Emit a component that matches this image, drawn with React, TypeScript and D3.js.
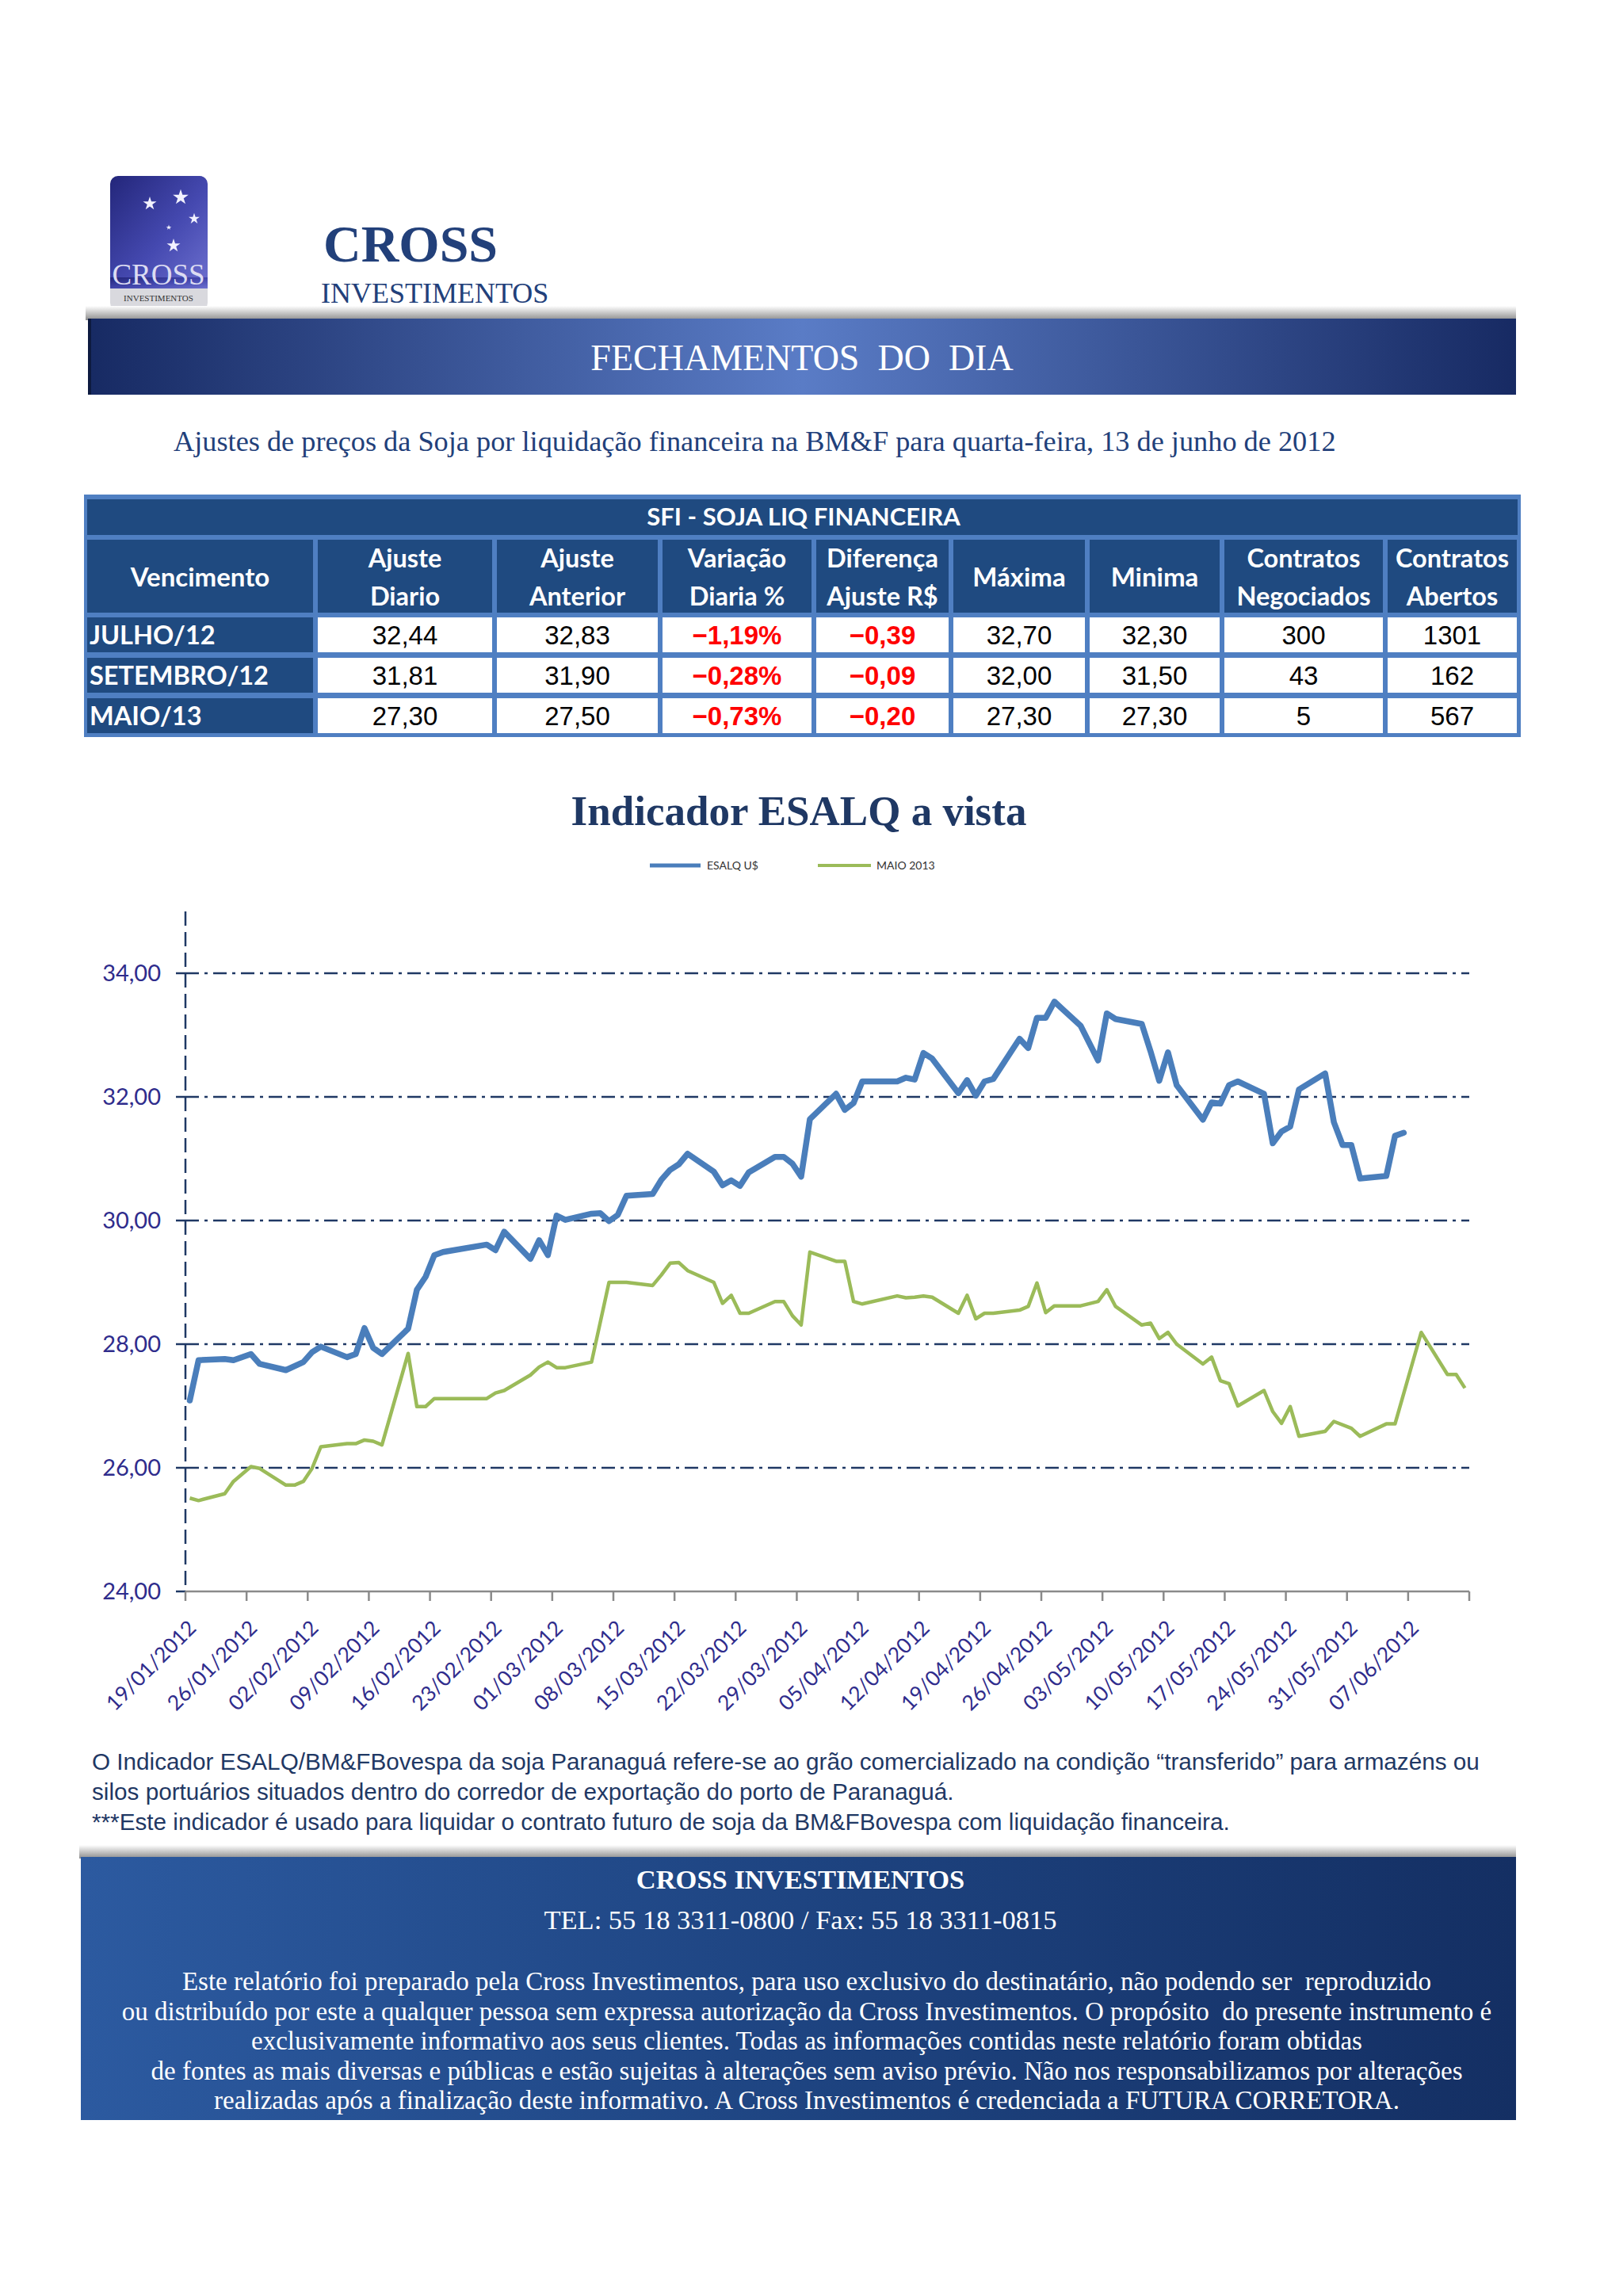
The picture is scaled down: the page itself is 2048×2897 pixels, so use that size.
import * as d3 from "d3";

const vencimentos = ["JULHO/12", "SETEMBRO/12", "MAIO/13"];
const ajusteDiario = [32.44, 31.81, 27.3];
const ajusteAnterior = [32.83, 31.9, 27.5];
const variacaoPct = [-1.19, -0.28, -0.73];
const diferenca = [-0.39, -0.09, -0.2];
const maxima = [32.7, 32.0, 27.3];
const minima = [32.3, 31.5, 27.3];
const contratosNegociados = [300, 43, 5];
const contratosAbertos = [1301, 162, 567];

const headers = [
  ["Vencimento"],
  ["Ajuste", "Diario"],
  ["Ajuste", "Anterior"],
  ["Variação", "Diaria %"],
  ["Diferença", "Ajuste R$"],
  ["Máxima"],
  ["Minima"],
  ["Contratos", "Negociados"],
  ["Contratos", "Abertos"],
];

const esalqDates = [
  "2012-01-19", "2012-01-20", "2012-01-23", "2012-01-24", "2012-01-26", "2012-01-27", "2012-01-30",
  "2012-02-01", "2012-02-02", "2012-02-03", "2012-02-06", "2012-02-07", "2012-02-08", "2012-02-09",
  "2012-02-10", "2012-02-13", "2012-02-14", "2012-02-15", "2012-02-16", "2012-02-17", "2012-02-22",
  "2012-02-23", "2012-02-24", "2012-02-27", "2012-02-28", "2012-02-29", "2012-03-01", "2012-03-02",
  "2012-03-05", "2012-03-06", "2012-03-07", "2012-03-08", "2012-03-09", "2012-03-12", "2012-03-13",
  "2012-03-14", "2012-03-15", "2012-03-16", "2012-03-19", "2012-03-20", "2012-03-21", "2012-03-22",
  "2012-03-23", "2012-03-26", "2012-03-27", "2012-03-28", "2012-03-29", "2012-03-30", "2012-04-02",
  "2012-04-03", "2012-04-04", "2012-04-05", "2012-04-09", "2012-04-10", "2012-04-11", "2012-04-12",
  "2012-04-13", "2012-04-16", "2012-04-17", "2012-04-18", "2012-04-19", "2012-04-20", "2012-04-23",
  "2012-04-24", "2012-04-25", "2012-04-26", "2012-04-27", "2012-04-30", "2012-05-02", "2012-05-03",
  "2012-05-04", "2012-05-07", "2012-05-08", "2012-05-09", "2012-05-10", "2012-05-11", "2012-05-14",
  "2012-05-15", "2012-05-16", "2012-05-17", "2012-05-18", "2012-05-21", "2012-05-22", "2012-05-23",
  "2012-05-24", "2012-05-25", "2012-05-28", "2012-05-29", "2012-05-30", "2012-05-31", "2012-06-01",
  "2012-06-04", "2012-06-05", "2012-06-06",
];
const esalqValues = [
  27.09, 27.74, 27.76, 27.74, 27.84, 27.68, 27.58,
  27.71, 27.87, 27.96, 27.79, 27.84, 28.26, 27.94,
  27.84, 28.25, 28.88, 29.09, 29.44, 29.49, 29.61,
  29.52, 29.82, 29.38, 29.68, 29.44, 30.08, 30.01,
  30.11, 30.12, 29.99, 30.09, 30.4, 30.43, 30.66,
  30.82, 30.91, 31.08, 30.79, 30.57, 30.65, 30.56,
  30.78, 31.03, 31.03, 30.92, 30.71, 31.64, 32.05,
  31.79, 31.9, 32.25, 32.25, 32.31, 32.28, 32.71,
  32.62, 32.06, 32.27, 32.02, 32.25, 32.29, 32.94,
  32.79, 33.28, 33.28, 33.54, 33.15, 32.59, 33.35,
  33.26, 33.18, 32.74, 32.26, 32.72, 32.19, 31.63,
  31.91, 31.89, 32.19, 32.25, 32.05, 31.25, 31.44,
  31.52, 32.12, 32.38, 31.59, 31.22, 31.22, 30.68,
  30.72, 31.37, 31.42,
];

const maioDates = [
  "2012-01-19", "2012-01-20", "2012-01-23", "2012-01-24", "2012-01-26", "2012-01-27", "2012-01-30",
  "2012-01-31", "2012-02-01", "2012-02-02", "2012-02-03", "2012-02-06", "2012-02-07", "2012-02-08",
  "2012-02-09", "2012-02-10", "2012-02-13", "2012-02-14", "2012-02-15", "2012-02-16", "2012-02-17",
  "2012-02-22", "2012-02-23", "2012-02-24", "2012-02-27", "2012-02-28", "2012-02-29", "2012-03-01",
  "2012-03-02", "2012-03-05", "2012-03-07", "2012-03-08", "2012-03-09", "2012-03-12", "2012-03-13",
  "2012-03-14", "2012-03-15", "2012-03-16", "2012-03-19", "2012-03-20", "2012-03-21", "2012-03-22",
  "2012-03-23", "2012-03-26", "2012-03-27", "2012-03-28", "2012-03-29", "2012-03-30", "2012-04-02",
  "2012-04-03", "2012-04-04", "2012-04-05", "2012-04-09", "2012-04-10", "2012-04-11", "2012-04-12",
  "2012-04-13", "2012-04-16", "2012-04-17", "2012-04-18", "2012-04-19", "2012-04-20", "2012-04-23",
  "2012-04-24", "2012-04-25", "2012-04-26", "2012-04-27", "2012-04-30", "2012-05-02", "2012-05-03",
  "2012-05-04", "2012-05-07", "2012-05-08", "2012-05-09", "2012-05-10", "2012-05-11", "2012-05-14",
  "2012-05-15", "2012-05-16", "2012-05-17", "2012-05-18", "2012-05-21", "2012-05-22", "2012-05-23",
  "2012-05-24", "2012-05-25", "2012-05-28", "2012-05-29", "2012-05-31", "2012-06-01", "2012-06-04",
  "2012-06-05", "2012-06-08", "2012-06-11", "2012-06-12", "2012-06-13",
];
const maioValues = [
  25.51, 25.47, 25.58, 25.78, 26.02, 25.99, 25.72,
  25.72, 25.78, 25.99, 26.34, 26.39, 26.39, 26.45,
  26.43, 26.37, 27.85, 26.99, 26.99, 27.12, 27.12,
  27.12, 27.21, 27.25, 27.5, 27.63, 27.71, 27.62,
  27.62, 27.71, 29.0, 29.0, 29.0, 28.95, 29.12,
  29.31, 29.32, 29.19, 29.0, 28.66, 28.79, 28.5,
  28.5, 28.69, 28.69, 28.46, 28.31, 29.49, 29.34,
  29.34, 28.69, 28.65, 28.78, 28.75, 28.76, 28.78,
  28.76, 28.5, 28.79, 28.41, 28.5, 28.5, 28.55,
  28.61, 28.99, 28.51, 28.62, 28.62, 28.69, 28.88,
  28.61, 28.31, 28.34, 28.09, 28.19, 28.0, 27.68,
  27.79, 27.41, 27.36, 27.0, 27.25, 26.91, 26.72,
  26.99, 26.51, 26.59, 26.75, 26.64, 26.51, 26.71,
  26.71, 28.19, 27.51, 27.51, 27.29,
];

const tickLabels = [
  "19/01/2012", "26/01/2012", "02/02/2012", "09/02/2012", "16/02/2012", "23/02/2012", "01/03/2012",
  "08/03/2012", "15/03/2012", "22/03/2012", "29/03/2012", "05/04/2012", "12/04/2012", "19/04/2012",
  "26/04/2012", "03/05/2012", "10/05/2012", "17/05/2012", "24/05/2012", "31/05/2012", "07/06/2012",
];
const axisEnd = "14/06/2012";
const yTicks = [24, 26, 28, 30, 32, 34];

const footerLines = [
  "Este relatório foi preparado pela Cross Investimentos, para uso exclusivo do destinatário, não podendo ser  reproduzido",
  "ou distribuído por este a qualquer pessoa sem expressa autorização da Cross Investimentos. O propósito  do presente instrumento é",
  "exclusivamente informativo aos seus clientes. Todas as informações contidas neste relatório foram obtidas",
  "de fontes as mais diversas e públicas e estão sujeitas à alterações sem aviso prévio. Não nos responsabilizamos por alterações",
  "realizadas após a finalização deste informativo. A Cross Investimentos é credenciada a FUTURA CORRETORA.",
];
const noteLines = [
  "O Indicador ESALQ/BM&FBovespa da soja Paranaguá refere-se ao grão comercializado na condição “transferido” para armazéns ou",
  "silos portuários situados dentro do corredor de exportação do porto de Paranaguá.",
  "***Este indicador é usado para liquidar o contrato futuro de soja da BM&FBovespa com liquidação financeira.",
];

const SERIF = "'Liberation Serif', 'Times New Roman', serif";
const SANS = "'Liberation Sans', Arial, sans-serif";
const CAL = "Lato, 'Open Sans', sans-serif";
const NAVY = "#1F3864";

const locale = d3.formatLocale({ decimal: ",", thousands: ".", grouping: [3], currency: ["R$ ", ""] });
const f2 = locale.format(".2f");

function App() {
  const W = 2048;
  const H = 2897;

  // chart scales
  const parseIso = d3.utcParse("%Y-%m-%d");
  const parseBr = d3.utcParse("%d/%m/%Y");
  const x = d3
    .scaleUtc()
    .domain([parseBr(tickLabels[0]) as Date, parseBr(axisEnd) as Date])
    .range([234, 1854]);
  const y = d3.scaleLinear().domain([24, 35]).range([2008, 1150]);
  const xPos = (d: Date) => x(d3.utcHour.offset(d, 12));

  const esalq = esalqDates.map((d, i) => ({ date: parseIso(d) as Date, value: esalqValues[i] }));
  const maio = maioDates.map((d, i) => ({ date: parseIso(d) as Date, value: maioValues[i] }));
  const line = d3
    .line<{ date: Date; value: number }>()
    .x((d) => xPos(d.date))
    .y((d) => y(d.value));

  const tickDates = [...tickLabels, axisEnd].map((t) => parseBr(t) as Date);

  // table layout
  const colL = [110, 401, 627, 836, 1030, 1203, 1375, 1545, 1751];
  const colR = [395, 621, 830, 1024, 1197, 1369, 1539, 1745, 1914];
  const rowTop = [779, 830, 881];
  const rowH = 44;
  const rows = vencimentos.map((v, i) => [
    v,
    f2(ajusteDiario[i]),
    f2(ajusteAnterior[i]),
    f2(variacaoPct[i]) + "%",
    f2(diferenca[i]),
    f2(maxima[i]),
    f2(minima[i]),
    String(contratosNegociados[i]),
    String(contratosAbertos[i]),
  ]);

  const star = d3.symbol().type(d3.symbolStar);

  return (
    <div style={{ position: "absolute", left: 0, top: 0 }}>
      <svg width={W} height={H} style={{ display: "block", background: "#fff" }}>
        <defs>
          <linearGradient id="banner" x1="0" x2="1" y1="0" y2="0">
            <stop offset="0" stopColor="#172a63" />
            <stop offset="0.5" stopColor="#5a7cc6" />
            <stop offset="1" stopColor="#172a63" />
          </linearGradient>
          <linearGradient id="footer" x1="0" x2="1" y1="0" y2="0">
            <stop offset="0" stopColor="#2c5aa0" />
            <stop offset="0.5" stopColor="#1e4481" />
            <stop offset="1" stopColor="#142f63" />
          </linearGradient>
          <linearGradient id="shadow" x1="0" x2="0" y1="0" y2="1">
            <stop offset="0" stopColor="#ffffff" />
            <stop offset="1" stopColor="#8c8c8c" />
          </linearGradient>
          <linearGradient id="logo" x1="0" x2="1" y1="0" y2="1">
            <stop offset="0" stopColor="#23267a" />
            <stop offset="0.55" stopColor="#4549b0" />
            <stop offset="1" stopColor="#6d70cf" />
          </linearGradient>
        </defs>

        {/* logo */}
        <rect x={139} y={222} width={123} height={170} rx={10} fill="#d9d9de" />
        <rect x={139} y={222} width={123} height={142} rx={10} fill="url(#logo)" />
        <rect x={139} y={350} width={123} height={14} fill="url(#logo)" />
        {[
          [189, 257, 90],
          [228, 249, 120],
          [245, 276, 60],
          [213, 287, 14],
          [219, 310, 90],
        ].map(([sx, sy, s], i) => (
          <path key={i} d={star.size(s)() as string} transform={`translate(${sx},${sy})`} fill="#f2f2ff" />
        ))}
        <text x={200} y={359} textAnchor="middle" fontFamily={SERIF} fontSize={37} fill="#dcdcf2">
          CROSS
        </text>
        <text x={200} y={380} textAnchor="middle" fontFamily={SERIF} fontSize={11} fill="#333">
          INVESTIMENTOS
        </text>

        <text x={408} y={330} fontFamily={SERIF} fontWeight="bold" fontSize={66} fill="#22407a">
          CROSS
        </text>
        <text x={405} y={382} fontFamily={SERIF} fontSize={36} fill="#22407a">
          INVESTIMENTOS
        </text>

        {/* banner */}
        <rect x={108} y={386} width={1805} height={18} fill="url(#shadow)" />
        <rect x={111} y={402} width={1802} height={96} fill="url(#banner)" />
        <rect x={111} y={402} width={4} height={96} fill="#0d1a40" />
        <text
          x={1012}
          y={467}
          textAnchor="middle"
          fontFamily={SERIF}
          fontSize={46}
          fill="#fff"
          style={{ whiteSpace: "pre" }}
        >
          FECHAMENTOS  DO  DIA
        </text>

        <text x={219} y={569} fontFamily={SERIF} fontSize={36.3} fill="#22407a">
          Ajustes de preços da Soja por liquidação financeira na BM&amp;F para quarta-feira, 13 de junho de 2012
        </text>

        {/* table */}
        <rect x={106} y={624} width={1813} height={306} fill="#4f7fc2" />
        <rect x={110} y={630} width={1805} height={45} fill="#1f4a80" />
        <text x={1014} y={663} textAnchor="middle" fontFamily={CAL} fontWeight="bold" fontSize={31} fill="#fff">
          SFI - SOJA LIQ FINANCEIRA
        </text>
        {headers.map((h, i) => {
          const cx = (colL[i] + colR[i]) / 2;
          return (
            <g key={i}>
              <rect x={colL[i]} y={681} width={colR[i] - colL[i]} height={92} fill="#1f4a80" />
              {h.length === 1 ? (
                <text x={cx} y={740} textAnchor="middle" fontFamily={CAL} fontWeight="bold" fontSize={33} fill="#fff">
                  {h[0]}
                </text>
              ) : (
                h.map((t, j) => (
                  <text
                    key={j}
                    x={cx}
                    y={716 + j * 48}
                    textAnchor="middle"
                    fontFamily={CAL}
                    fontWeight="bold"
                    fontSize={32.5}
                    fill="#fff"
                  >
                    {t}
                  </text>
                ))
              )}
            </g>
          );
        })}
        {rows.map((r, i) => (
          <g key={i}>
            {r.map((v, j) => {
              const first = j === 0;
              const red = j === 3 || j === 4;
              return (
                <g key={j}>
                  <rect
                    x={colL[j]}
                    y={rowTop[i]}
                    width={colR[j] - colL[j]}
                    height={rowH}
                    fill={first ? "#1f4a80" : "#fff"}
                  />
                  <text
                    x={first ? colL[j] + 3 : (colL[j] + colR[j]) / 2}
                    y={rowTop[i] + 34}
                    textAnchor={first ? "start" : "middle"}
                    fontFamily={first ? CAL : SANS}
                    fontWeight={first || red ? "bold" : "normal"}
                    fontSize={first ? 32.5 : 33}
                    fill={first ? "#fff" : red ? "#ff0000" : "#000"}
                  >
                    {v}
                  </text>
                </g>
              );
            })}
          </g>
        ))}

        {/* chart */}
        <text x={1008} y={1041} textAnchor="middle" fontFamily={SERIF} fontWeight="bold" fontSize={53} fill={NAVY}>
          Indicador ESALQ a vista
        </text>
        <line x1={820} x2={884} y1={1092} y2={1092} stroke="#4a7ebb" strokeWidth={5} />
        <text x={892} y={1097} fontFamily={CAL} fontSize={14} fill="#333">
          ESALQ U$
        </text>
        <line x1={1032} x2={1099} y1={1092} y2={1092} stroke="#9bbb59" strokeWidth={4} />
        <text x={1106} y={1097} fontFamily={CAL} fontSize={14} fill="#333">
          MAIO 2013
        </text>

        {yTicks
          .filter((t) => t > 24)
          .map((t) => (
            <line
              key={t}
              x1={x.range()[0]}
              x2={x.range()[1]}
              y1={y(t)}
              y2={y(t)}
              stroke={NAVY}
              strokeWidth={2.5}
              strokeDasharray="17,7,4,7"
            />
          ))}
        <line x1={234} x2={234} y1={y(35)} y2={y(24)} stroke={NAVY} strokeWidth={2.5} strokeDasharray="18,8" />
        {yTicks.map((t) => (
          <g key={t}>
            <line x1={222} x2={234} y1={y(t)} y2={y(t)} stroke={NAVY} strokeWidth={2.5} />
            <text x={203} y={y(t) + 10} textAnchor="end" fontFamily={CAL} fontSize={29} fill="#2f2c8c">
              {f2(t)}
            </text>
          </g>
        ))}
        <line x1={x.range()[0]} x2={x.range()[1]} y1={y(24)} y2={y(24)} stroke="#8a8a8a" strokeWidth={2.5} />
        {tickDates.map((d, i) => (
          <line key={i} x1={x(d)} x2={x(d)} y1={y(24)} y2={y(24) + 12} stroke="#8a8a8a" strokeWidth={2.5} />
        ))}
        {tickLabels.map((t, i) => {
          const px = x(tickDates[i]) + 15;
          const py = y(24) + 48;
          return (
            <text
              key={t}
              x={px}
              y={py}
              transform={`rotate(-45,${px},${py})`}
              textAnchor="end"
              fontFamily={CAL}
              fontSize={26.5}
              fill="#2f2c8c"
            >
              {t}
            </text>
          );
        })}

        <path d={line(maio) as string} fill="none" stroke="#9bbb59" strokeWidth={4.5} strokeLinejoin="round" />
        <path
          d={line(esalq) as string}
          fill="none"
          stroke="#4a7ebb"
          strokeWidth={7.5}
          strokeLinejoin="round"
          strokeLinecap="round"
        />

        {/* notes */}
        {noteLines.map((t, i) => (
          <text key={i} x={116} y={2233 + i * 38} fontFamily={SANS} fontSize={29.7} fill={NAVY}>
            {t}
          </text>
        ))}

        {/* footer */}
        <rect x={100} y={2328} width={1813} height={17} fill="url(#shadow)" />
        <rect x={102} y={2343} width={1811} height={332} fill="url(#footer)" />
        <text x={1010} y={2383} textAnchor="middle" fontFamily={SERIF} fontWeight="bold" fontSize={34.5} fill="#fff">
          CROSS INVESTIMENTOS
        </text>
        <text x={1010} y={2434} textAnchor="middle" fontFamily={SERIF} fontSize={34.5} fill="#fff">
          TEL: 55 18 3311-0800 / Fax: 55 18 3311-0815
        </text>
        {footerLines.map((t, i) => (
          <text
            key={i}
            x={1018}
            y={2511 + i * 37.5}
            textAnchor="middle"
            fontFamily={SERIF}
            fontSize={33}
            fill="#fff"
            style={{ whiteSpace: "pre" }}
          >
            {t}
          </text>
        ))}
      </svg>
    </div>
  );
}

export default App;
